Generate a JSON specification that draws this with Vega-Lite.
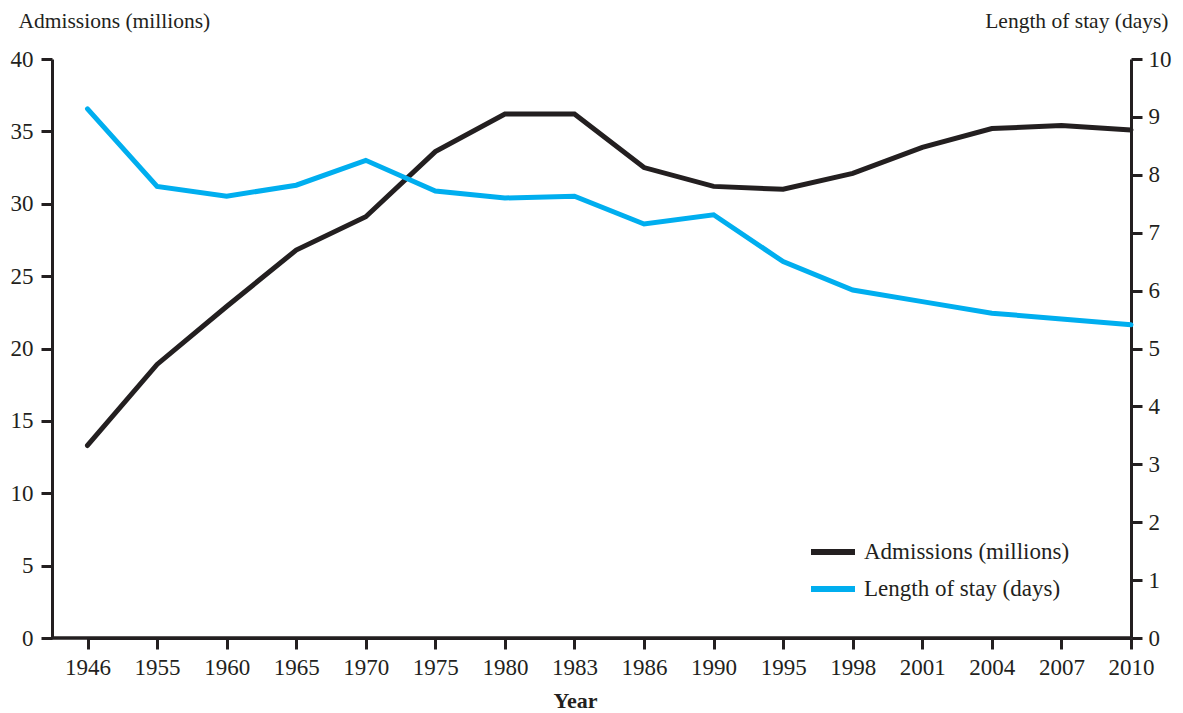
{
  "$schema": "https://vega.github.io/schema/vega-lite/v6.json",
  "width": 1079,
  "height": 579,
  "autosize": {"type": "none"},
  "padding": {"left": 52, "top": 59, "right": 52, "bottom": 75},
  "background": "white",
  "config": {
    "view": {"stroke": null},
    "font": "Liberation Serif",
    "axis": {
      "grid": false,
      "domainColor": "#231f20",
      "domainWidth": 3,
      "tickColor": "#231f20",
      "tickWidth": 3,
      "tickSize": 11,
      "labelFont": "Liberation Serif",
      "labelFontSize": 23,
      "labelColor": "#231f20",
      "titleFont": "Liberation Serif",
      "titleFontSize": 21.5,
      "titleColor": "#231f20",
      "titleFontWeight": "normal"
    }
  },
  "data": {
    "values": [
      {"year": "1946", "series": "Admissions (millions)", "value": 13.3},
      {"year": "1955", "series": "Admissions (millions)", "value": 18.9},
      {"year": "1960", "series": "Admissions (millions)", "value": 22.9},
      {"year": "1965", "series": "Admissions (millions)", "value": 26.8},
      {"year": "1970", "series": "Admissions (millions)", "value": 29.1},
      {"year": "1975", "series": "Admissions (millions)", "value": 33.6},
      {"year": "1980", "series": "Admissions (millions)", "value": 36.2},
      {"year": "1983", "series": "Admissions (millions)", "value": 36.2},
      {"year": "1986", "series": "Admissions (millions)", "value": 32.5},
      {"year": "1990", "series": "Admissions (millions)", "value": 31.2},
      {"year": "1995", "series": "Admissions (millions)", "value": 31.0},
      {"year": "1998", "series": "Admissions (millions)", "value": 32.1},
      {"year": "2001", "series": "Admissions (millions)", "value": 33.9},
      {"year": "2004", "series": "Admissions (millions)", "value": 35.2},
      {"year": "2007", "series": "Admissions (millions)", "value": 35.4},
      {"year": "2010", "series": "Admissions (millions)", "value": 35.1},
      {"year": "1946", "series": "Length of stay (days)", "value": 9.14},
      {"year": "1955", "series": "Length of stay (days)", "value": 7.8},
      {"year": "1960", "series": "Length of stay (days)", "value": 7.63},
      {"year": "1965", "series": "Length of stay (days)", "value": 7.82},
      {"year": "1970", "series": "Length of stay (days)", "value": 8.25},
      {"year": "1975", "series": "Length of stay (days)", "value": 7.72},
      {"year": "1980", "series": "Length of stay (days)", "value": 7.6},
      {"year": "1983", "series": "Length of stay (days)", "value": 7.63},
      {"year": "1986", "series": "Length of stay (days)", "value": 7.15},
      {"year": "1990", "series": "Length of stay (days)", "value": 7.31},
      {"year": "1995", "series": "Length of stay (days)", "value": 6.5},
      {"year": "1998", "series": "Length of stay (days)", "value": 6.01},
      {"year": "2001", "series": "Length of stay (days)", "value": 5.81},
      {"year": "2004", "series": "Length of stay (days)", "value": 5.61},
      {"year": "2007", "series": "Length of stay (days)", "value": 5.51},
      {"year": "2010", "series": "Length of stay (days)", "value": 5.41}
    ]
  },
  "layer": [
    {
      "transform": [{"filter": "datum.year === '1946' && datum.series === 'Admissions (millions)'"}],
      "mark": {"type": "rule", "color": "#231f20", "strokeWidth": 3.5, "opacity": 1},
      "encoding": {
        "y": {"datum": 0, "type": "quantitative", "scale": {"domain": [0, 1]}, "axis": null}
      }
    },
    {
      "transform": [{"filter": "datum.series === 'Admissions (millions)'"}],
      "mark": {"type": "line", "strokeWidth": 5, "strokeJoin": "miter", "strokeCap": "round"},
      "encoding": {
        "x": {
          "field": "year",
          "type": "ordinal",
          "scale": {
            "type": "point",
            "padding": 0,
            "domain": ["1946","1955","1960","1965","1970","1975","1980","1983","1986","1990","1995","1998","2001","2004","2007","2010"],
            "range": [35.5, 1079]
          },
          "axis": {
            "labelAngle": 0,
            "labelPadding": 7,
            "title": "Year",
            "titleFontWeight": "bold",
            "titleFontSize": 22,
            "titleX": 523,
            "titleY": 69,
            "titleAlign": "center",
            "titleBaseline": "alphabetic"
          }
        },
        "y": {
          "field": "value",
          "type": "quantitative",
          "scale": {"domain": [0, 40]},
          "axis": {
            "orient": "left",
            "values": [0, 5, 10, 15, 20, 25, 30, 35, 40],
            "labelPadding": 8,
            "title": "Admissions (millions)",
            "titleAngle": 0,
            "titleAlign": "left",
            "titleBaseline": "alphabetic",
            "titleX": -34,
            "titleY": -32
          }
        },
        "color": {
          "field": "series",
          "type": "nominal",
          "scale": {
            "domain": ["Admissions (millions)", "Length of stay (days)"],
            "range": ["#231f20", "#00aeef"]
          },
          "legend": {
            "title": null,
            "orient": "none",
            "legendX": 756,
            "legendY": 468,
            "padding": 0,
            "symbolType": "stroke",
            "symbolStrokeWidth": 6,
            "symbolSize": 1936,
            "rowPadding": -15,
            "labelOffset": 6,
            "labelLimit": 0,
            "labelFont": "Liberation Serif",
            "labelFontSize": 23,
            "labelColor": "#231f20"
          }
        }
      }
    },
    {
      "transform": [{"filter": "datum.series === 'Length of stay (days)'"}],
      "mark": {"type": "line", "strokeWidth": 5, "strokeJoin": "miter", "strokeCap": "round"},
      "encoding": {
        "x": {"field": "year", "type": "ordinal"},
        "y": {
          "field": "value",
          "type": "quantitative",
          "scale": {"domain": [0, 10]},
          "axis": {
            "orient": "right",
            "values": [0, 1, 2, 3, 4, 5, 6, 7, 8, 9, 10],
            "labelPadding": 6,
            "title": "Length of stay (days)",
            "titleAngle": 0,
            "titleAlign": "right",
            "titleBaseline": "alphabetic",
            "titleX": 37,
            "titleY": -32
          }
        },
        "color": {"field": "series", "type": "nominal"}
      }
    }
  ],
  "resolve": {"scale": {"y": "independent"}}
}
